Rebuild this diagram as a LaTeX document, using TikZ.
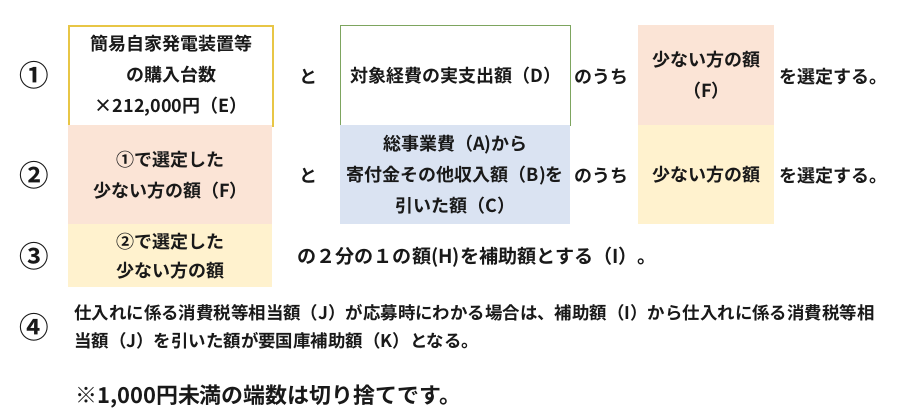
\documentclass[tikz,border=0pt]{standalone}
\usepackage{fontspec}
\setmainfont{Noto Sans CJK JP}[BoldFont={Noto Sans CJK JP Bold}]
\usetikzlibrary{positioning}
\definecolor{inkgray}{RGB}{25,25,25}
\definecolor{boxgold}{RGB}{232,198,70}
\definecolor{boxgreen}{RGB}{125,165,95}
\definecolor{fillpeach}{RGB}{251,228,214}
\definecolor{fillblue}{RGB}{218,227,242}
\definecolor{fillcream}{RGB}{255,242,206}

\begin{document}
\begin{tikzpicture}[x=0.025cm,y=-0.025cm,
  every node/.style={inner sep=0pt,text=inkgray},
  txt/.style={font=\fontsize{12.8}{22}\selectfont\bfseries,align=center},
  numcirc/.style={font=\fontsize{21}{21}\selectfont\bfseries},
  cell/.style={txt,anchor=north west,minimum height=2.5cm},
  colA/.style={cell,minimum width=5.1cm},
  colB/.style={cell,minimum width=5.75cm},
  colC/.style={cell,minimum width=3.4cm}]
\useasboundingbox (0,0) rectangle (912,416);

% row 1
\node[numcirc] (one) at (34,75) {①};
\node[colA,draw=boxgold,line width=1.5pt] (units) at (68,25) {簡易自家発電装置等\\の購入台数\\×212,000円（E）};
\node[txt] (and1) at (308,77) {と};
\node[colB,draw=boxgreen,line width=1pt] (actual) at (340,25) {対象経費の実支出額（D）};
\node[txt] (among1) at (601,77) {のうち};
\node[colC,fill=fillpeach] (lessF) at (638,25) {少ない方の額\\（F）};
\node[txt,anchor=west] (select1) at (779,77) {を選定する。};

% row 2
\node[numcirc] (two) at (34,175) {②};
\node[colA,fill=fillpeach,minimum height=2.475cm] (chosenF) at (68,125) {①で選定した\\少ない方の額（F）};
\node[txt] (and2) at (308,176) {と};
\node[colB,fill=fillblue,minimum height=2.475cm] (netcost) at (340,125) {総事業費（A)から\\寄付金その他収入額（B)を\\引いた額（C）};
\node[txt] (among2) at (601,176) {のうち};
\node[colC,fill=fillcream,minimum height=2.475cm] (lessG) at (638,125) {少ない方の額};
\node[txt,anchor=west] (select2) at (779,176) {を選定する。};

% row 3
\node[numcirc] (three) at (34,256) {③};
\node[colA,fill=fillcream,minimum height=1.575cm,font=\fontsize{12.8}{20.6}\selectfont\bfseries] (chosenG) at (68,224) {②で選定した\\少ない方の額};
\node[txt,anchor=west,font=\fontsize{13.6}{16}\selectfont\bfseries] (half) at (297,257) {の２分の１の額(H)を補助額とする（I）。};

% row 4
\node[numcirc] (four) at (34,327) {④};
\node[txt,anchor=west,align=left,font=\fontsize{12.4}{20}\selectfont\bfseries] (tax) at (74,327) {仕入れに係る消費税等相当額（J）が応募時にわかる場合は、補助額（I）から仕入れに係る消費税等相\\当額（J）を引いた額が要国庫補助額（K）となる。};

\node[txt,anchor=west,font=\fontsize{15.6}{18}\selectfont\bfseries] (note) at (75,397) {※1,000円未満の端数は切り捨てです。};

\end{tikzpicture}
\end{document}
